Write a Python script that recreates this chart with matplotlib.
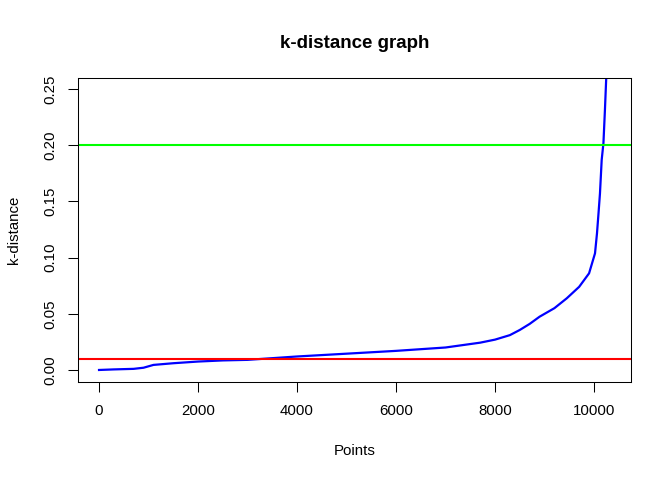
import matplotlib
matplotlib.use("Agg")
import matplotlib.pyplot as plt

# sorted k-distances
points = [1, 300, 700, 900, 1100, 1500, 2000, 2500, 3000, 3500, 4000, 5000, 6000,
          7000, 7700, 8000, 8300, 8500, 8700, 8900, 9200, 9450, 9700, 9900,
          10020, 10060, 10090, 10120, 10155, 10190, 10220, 10245, 10300]
kdist = [0.000, 0.0005, 0.001, 0.002, 0.0045, 0.006, 0.0075, 0.0085, 0.009, 0.0105,
         0.012, 0.0145, 0.017, 0.020, 0.0243, 0.027, 0.031, 0.0356, 0.041, 0.0474,
         0.055, 0.0638, 0.074, 0.086, 0.1038, 0.1216, 0.139, 0.157, 0.187, 0.2017,
         0.231, 0.258, 0.30]
lower_eps = 0.01
upper_eps = 0.2

xticks = [0, 2000, 4000, 6000, 8000, 10000]
yticks = [0.00, 0.05, 0.10, 0.15, 0.20, 0.25]

plt.rcParams['font.family'] = ['Liberation Sans', 'DejaVu Sans']

fig = plt.figure(figsize=(6.72, 4.8), dpi=100)
ax = fig.add_axes([78/672, 1-382/480, (631-78)/672, (382-78)/480])

ax.plot(points, kdist, color='#0000FF', lw=1.6)
ax.axhline(lower_eps, color='#FF0000', lw=1.5)
ax.axhline(upper_eps, color='#00FF00', lw=1.5)

ax.set_xlim(-424, 10747)
ax.set_ylim(-0.0107, 0.2598)
ax.set_xticks(xticks)
ax.set_xticklabels([str(t) for t in xticks])
ax.set_yticks(yticks)
ax.set_yticklabels(['%.2f' % t for t in yticks], rotation=90, va='center')
ax.tick_params(direction='out', length=7, width=0.75, labelsize=10.8, colors='black')
ax.tick_params(axis='x', pad=8.5)
ax.tick_params(axis='y', pad=8)
for s in ax.spines.values():
    s.set_linewidth(0.75)

fig.text(355/672, 1-43/480, 'k-distance graph', ha='center', va='center',
         fontsize=13.5, fontweight='bold')
fig.text(355/672, 1-451/480, 'Points', ha='center', va='center', fontsize=10.8)
fig.text(14/672, 1-230/480, 'k-distance', ha='center', va='center', fontsize=10.8,
         rotation=90)

fig.savefig('out.png', dpi=100)
